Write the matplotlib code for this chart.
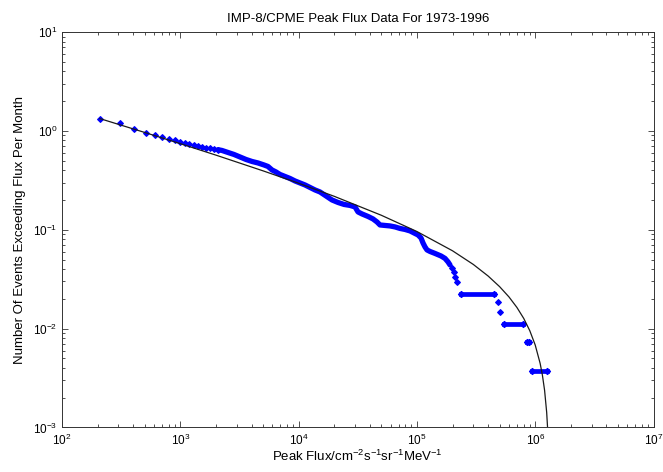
import matplotlib
matplotlib.use("Agg")
import matplotlib.pyplot as plt
from matplotlib.ticker import LogLocator, NullFormatter

plt.rcParams['font.family'] = ['Liberation Sans', 'DejaVu Sans']
plt.rcParams['mathtext.default'] = 'regular'

# single (well separated) points at low flux
flux_sparse = [209.5, 309.3, 406.1, 510, 614.8, 700, 802.8, 907.2, 994, 1102, 1192, 1298,
               1403, 1526, 1649, 1782, 1927, 2083,
               196100, 203900, 209900, 218300, 480000, 503000]
rate_sparse = [1.328, 1.194, 1.053, 0.959, 0.909, 0.862, 0.828, 0.815, 0.777, 0.760, 0.732, 0.720,
               0.7087, 0.6875, 0.6764, 0.667, 0.661, 0.6455,
               0.0407, 0.0370, 0.0333, 0.0296, 0.0185, 0.0148]

# dense part where the markers merge into a band
flux_band = [2083, 2252, 2531, 2844, 3196, 3593, 4038, 4538, 5100, 5511, 5959, 6441, 6963,
             7674, 8459, 9324, 10275, 11326, 12486, 13758, 15168, 17044, 19158, 21533,
             24203, 27196, 29991, 31779, 34347, 38598, 42561, 45985, 48753, 53747, 59237,
             65300, 71960, 79330, 87450, 94520, 102160, 108320, 112620, 117090, 121730,
             129060, 142230, 159800, 172800, 183200, 190400]
rate_band = [0.6455, 0.6336, 0.6046, 0.5773, 0.5447, 0.5138, 0.4904, 0.4736, 0.4520, 0.4366,
             0.4025, 0.3842, 0.3624, 0.3459, 0.3302, 0.3115, 0.2973, 0.2838, 0.2678, 0.2527,
             0.2411, 0.2197, 0.2001, 0.1888, 0.1803, 0.1762, 0.1701, 0.1514, 0.1445, 0.1363,
             0.1286, 0.1199, 0.1118, 0.1105, 0.1093, 0.1068, 0.1031, 0.1007, 0.0973, 0.0928,
             0.0886, 0.0826, 0.0735, 0.0670, 0.0625, 0.0603, 0.0576, 0.0543, 0.0513, 0.0473,
             0.0441]

# flat runs at high flux (few events left)
step_start = [236000, 545000, 853000, 948000]
step_end = [449000, 796000, 887000, 1270000]
step_rate = [0.0222, 0.0111, 0.0074, 0.0037]

# fitted curve
fit_flux = [209, 500, 1000, 2000, 5000, 10000, 20000, 50000, 100000, 200000, 300000,
            400000, 500000, 600000, 700000, 800000, 900000, 1000000, 1100000, 1150000,
            1200000, 1250000, 1280000, 1300000]
fit_rate = [1.331, 0.964, 0.7423, 0.5686, 0.3944, 0.2955, 0.2179, 0.14015, 0.09597, 0.06126,
            0.04454, 0.03403, 0.02658, 0.02092, 0.01639, 0.01267, 0.00952, 0.006825,
            0.004463, 0.003389, 0.002379, 0.001421, 0.000872, 0.000525]

fig = plt.figure(figsize=(6.63, 4.72), dpi=100)
ax = fig.add_axes([0.0935, 0.0943, 0.8922, 0.8379])

blue = (0, 0, 1)
ax.plot(flux_band, rate_band, '-', color=blue, lw=3.8, solid_capstyle='round', zorder=2)
ax.plot(flux_sparse, rate_sparse, 'D', color=blue, ms=3, mew=0.8, zorder=2)
for x0, x1, r in zip(step_start, step_end, step_rate):
    ax.plot([x0, x1], [r, r], '-D', color=blue, lw=3.4, ms=3.2, mew=0.8, zorder=2)

ax.plot(fit_flux, fit_rate, '-', color='0.1', lw=0.9, zorder=3)

ax.set_xscale('log')
ax.set_yscale('log')
ax.set_xlim(1e2, 1e7)
ax.set_ylim(1e-3, 1e1)
ax.xaxis.set_major_locator(LogLocator(base=10, numticks=10))
ax.yaxis.set_major_locator(LogLocator(base=10, numticks=10))
ax.xaxis.set_minor_locator(LogLocator(base=10, subs=range(2, 10), numticks=20))
ax.yaxis.set_minor_locator(LogLocator(base=10, subs=range(2, 10), numticks=20))
ax.xaxis.set_minor_formatter(NullFormatter())
ax.yaxis.set_minor_formatter(NullFormatter())
ax.tick_params(which='both', direction='in', top=True, right=True, labelsize=8.5,
               width=0.6, colors='0.2', labelcolor='black')
ax.tick_params(which='major', length=4.5)
ax.tick_params(which='minor', length=2.2)
for s in ax.spines.values():
    s.set_linewidth(0.7)
    s.set_color('0.2')

ax.set_title('IMP-8/CPME Peak Flux Data For 1973-1996', fontsize=9.5, pad=7)
ax.set_xlabel('Peak Flux/cm$^{-2}$s$^{-1}$sr$^{-1}$MeV$^{-1}$', fontsize=9.5, labelpad=1)
ax.set_ylabel('Number Of Events Exceeding Flux Per Month', fontsize=9.5, labelpad=5)

fig.savefig('out.png', dpi=100)
